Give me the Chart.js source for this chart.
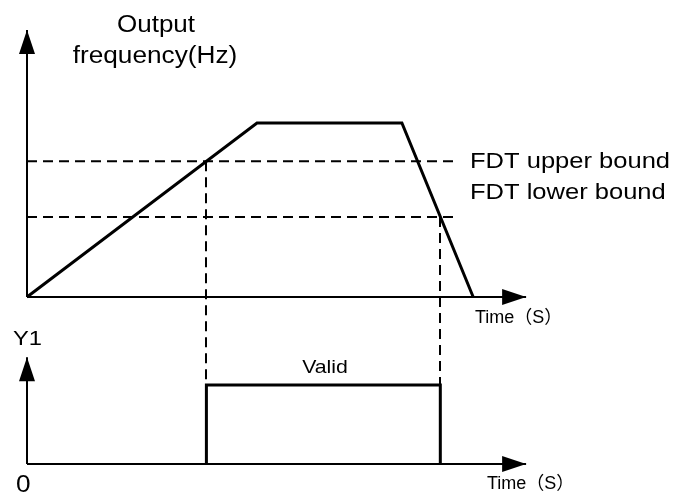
<!DOCTYPE html>
<html>
<head>
<meta charset="utf-8">
<script src="https://cdn.jsdelivr.net/npm/chart.js@4"></script>
<style>
  body { margin: 0; background: #fff; }
  #wrap { width: 673px; height: 495px; position: relative; }
</style>
</head>
<body>
<div id="wrap"><canvas id="myChart"></canvas></div>
<script>
// output frequency curve (time in s, frequency in Hz)
const freqTime = [0, 10, 16.3, 19.4];
const freqValue = [0, 50, 50, 0];
// FDT levels
const fdtLevels = [39, 23];
const fdtLabels = ["FDT upper bound", "FDT lower bound"];
// Y1 output signal
const y1Time = [7.8, 7.8, 17.97, 17.97];
const y1Value = [0, 1, 1, 0];
// axis extents
const timeAxisEnd = 21.7;
const freqAxisTop = 76.7;
const y1AxisTop = 1.35;
const dashEnd = 18.65;

// pixel layout
const W = 673, H = 495;
const originX = 27, pxPerSec = 23;
const freqOriginY = 297, pxPerHz = 3.48;
const y1OriginY = 464, pxPerUnit = 79;

function pts(xs, ys) {
  return xs.map((x, i) => ({ x: x, y: ys[i] }));
}

function drawText(ctx, s, x, y, size, sx, align) {
  ctx.save();
  ctx.font = size + 'px "Liberation Sans", Arial, "Noto Sans CJK SC", sans-serif';
  ctx.fillStyle = "#000";
  ctx.textAlign = align || "left";
  ctx.textBaseline = "alphabetic";
  ctx.translate(x, y);
  ctx.scale(sx, 1);
  ctx.fillText(s, 0, 0);
  ctx.restore();
}

function arrow(ctx, x, y, dir) {
  const len = 24, half = 8;
  ctx.beginPath();
  if (dir === "up") {
    ctx.moveTo(x, y);
    ctx.lineTo(x - half, y + len);
    ctx.lineTo(x + half, y + len);
  } else {
    ctx.moveTo(x, y);
    ctx.lineTo(x - len, y - half);
    ctx.lineTo(x - len, y + half);
  }
  ctx.closePath();
  ctx.fill();
}

const decorations = {
  id: "decorations",
  afterDatasetsDraw(chart) {
    const ctx = chart.ctx;
    const xs = chart.scales.x, yf = chart.scales.yf, ys = chart.scales.ys;
    ctx.save();
    // vertical dashed lines from FDT crossings down to the Y1 signal
    ctx.strokeStyle = "#000";
    ctx.lineWidth = 2;
    ctx.setLineDash([10, 6]);
    [[y1Time[1], fdtLevels[0]], [y1Time[2], fdtLevels[1]]].forEach(([t, lv]) => {
      const px = Math.round(xs.getPixelForValue(t));
      ctx.beginPath();
      ctx.moveTo(px, yf.getPixelForValue(lv));
      ctx.lineTo(px, ys.getPixelForValue(1));
      ctx.stroke();
    });
    ctx.setLineDash([]);
    // arrow heads
    ctx.fillStyle = "#000";
    arrow(ctx, xs.getPixelForValue(0), yf.getPixelForValue(freqAxisTop), "up");
    arrow(ctx, xs.getPixelForValue(timeAxisEnd), yf.getPixelForValue(0), "right");
    arrow(ctx, xs.getPixelForValue(0), ys.getPixelForValue(y1AxisTop), "up");
    arrow(ctx, xs.getPixelForValue(timeAxisEnd), ys.getPixelForValue(0), "right");
    // texts
    drawText(ctx, "Output", 156, 32, 23, 1.13, "center");
    drawText(ctx, "frequency(Hz)", 155, 63, 23, 1.14, "center");
    drawText(ctx, fdtLabels[0], 470, yf.getPixelForValue(fdtLevels[0]) + 7, 22, 1.16, "left");
    drawText(ctx, fdtLabels[1], 470, 199, 22, 1.16, "left");
    drawText(ctx, "Time（S）", 475, 323, 18, 1, "left");
    drawText(ctx, "Y1", 13, 345, 21, 1.13, "left");
    drawText(ctx, "Valid", 325, 373, 18.5, 1.15, "center");
    drawText(ctx, "0", 16, 492, 23, 1.14, "left");
    drawText(ctx, "Time（S）", 487, 489, 18, 1, "left");
    ctx.restore();
  }
};

window.onload = () => {
  const axisStyle = { borderColor: "#000", borderWidth: 2, pointRadius: 0, fill: false };
  const datasets = [
    Object.assign({ data: pts([0, timeAxisEnd], [0, 0]), yAxisID: "yf" }, axisStyle),
    Object.assign({ data: pts([0, 0], [0, freqAxisTop]), yAxisID: "yf" }, axisStyle),
    Object.assign({ data: pts([0, timeAxisEnd], [0, 0]), yAxisID: "ys" }, axisStyle),
    Object.assign({ data: pts([0, 0], [0, y1AxisTop]), yAxisID: "ys" }, axisStyle),
  ];
  for (let lv of fdtLevels) {
    datasets.push({
      data: pts([0, dashEnd], [lv, lv]),
      yAxisID: "yf",
      borderColor: "#000",
      borderWidth: 2,
      borderDash: [10, 6],
      pointRadius: 0,
    });
  }
  datasets.push({
    data: pts(freqTime, freqValue),
    yAxisID: "yf",
    borderColor: "#000",
    borderWidth: 3,
    borderJoinStyle: "miter",
    pointRadius: 0,
  });
  datasets.push({
    data: pts(y1Time, y1Value),
    yAxisID: "ys",
    borderColor: "#000",
    borderWidth: 3,
    borderJoinStyle: "miter",
    pointRadius: 0,
  });

  new Chart(document.getElementById("myChart"), {
    type: "scatter",
    data: { datasets: datasets },
    options: {
      responsive: true,
      maintainAspectRatio: false,
      animation: false,
      showLine: true,
      layout: { padding: 0 },
      plugins: { legend: { display: false }, tooltip: { enabled: false } },
      elements: { line: { tension: 0 } },
      scales: {
        x: {
          type: "linear", display: false, bounds: "data",
          min: -originX / pxPerSec, max: (W - originX) / pxPerSec,
        },
        yf: {
          type: "linear", display: false, bounds: "data",
          min: -(H - freqOriginY) / pxPerHz, max: freqOriginY / pxPerHz,
        },
        ys: {
          type: "linear", display: false, bounds: "data",
          min: -(H - y1OriginY) / pxPerUnit, max: y1OriginY / pxPerUnit,
        },
      },
    },
    plugins: [decorations],
  });
};
</script>
</body>
</html>
